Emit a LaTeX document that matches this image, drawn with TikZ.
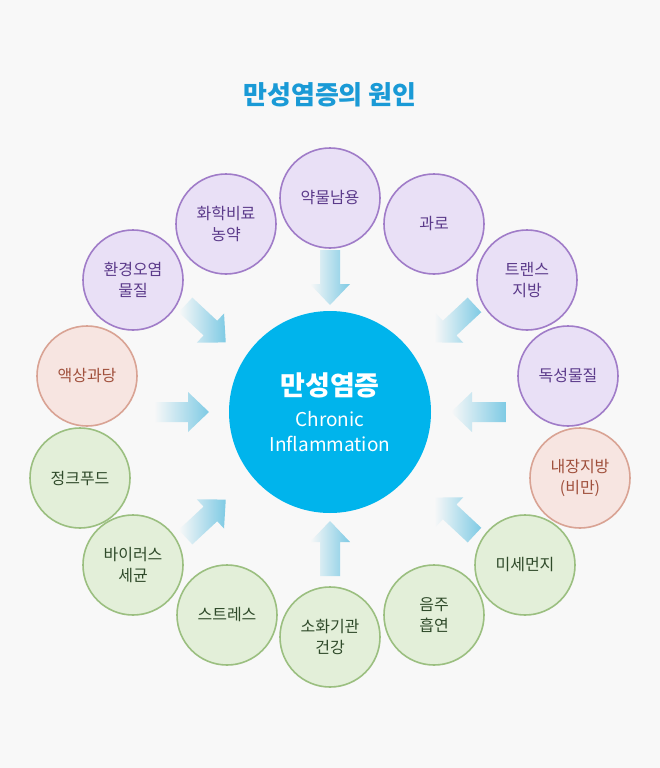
\documentclass[tikz,border=0pt]{standalone}
\usepackage{fontspec}
\setmainfont{Noto Sans CJK KR}
\definecolor{bg}{HTML}{F8F8F8}
\definecolor{pf}{HTML}{E9E0F6}\definecolor{pd}{HTML}{A07CC8}\definecolor{pt}{HTML}{5B3A8A}
\definecolor{kf}{HTML}{F7E5E1}\definecolor{kd}{HTML}{D9A394}\definecolor{kt}{HTML}{A0503C}
\definecolor{gf}{HTML}{E3EFD9}\definecolor{gd}{HTML}{9BBF80}\definecolor{gt}{HTML}{2F4A2A}
\definecolor{cc}{HTML}{00B4EC}\definecolor{tt}{HTML}{1A9AD6}\definecolor{ab}{HTML}{7ECAE4}
\newcommand{\fatarrow}[3]{\begin{scope}[shift={(#1,#2)},rotate=#3]
 \shade[left color=bg,right color=ab] (-28,-10)--(6,-10)--(6,-20)--(27,0)--(6,20)--(6,10)--(-28,10)--cycle;
\end{scope}}
\begin{document}
\begin{tikzpicture}[x=1pt,y=-1pt,
 sat/.style={circle,minimum size=100pt,inner sep=0pt,line width=1.6pt,align=center,font=\fontsize{16}{21}\selectfont},
 pur/.style={sat,fill=pf,draw=pd,text=pt},
 pnk/.style={sat,fill=kf,draw=kd,text=kt},
 grn/.style={sat,fill=gf,draw=gd,text=gt}]
\fill[bg] (0,0) rectangle (660,768);
\node[text=tt,font=\fontsize{26}{30}\selectfont\bfseries] (title) at (330,95) {만성염증의 원인};
\node[circle,fill=cc,minimum size=202pt,inner sep=0pt,text=white,align=center,font=\fontsize{19}{25}\selectfont] (c) at (330,412)
 {{\fontsize{27}{34}\selectfont\bfseries 만성염증}\\[6pt]Chronic\\Inflammation};
\node[pur] (a1) at (330,198) {약물남용};
\node[pur] (a2) at (226,224) {화학비료\\농약};
\node[pur] (a3) at (434,224) {과로};
\node[pur] (a4) at (133,280) {환경오염\\물질};
\node[pur] (a5) at (527,280) {트랜스\\지방};
\node[pnk] (a6) at (87,376) {액상과당};
\node[pur] (a7) at (568,376) {독성물질};
\node[grn] (a8) at (80,478) {정크푸드};
\node[pnk] (a9) at (580,478) {내장지방\\(비만)};
\node[grn] (a10) at (133,565) {바이러스\\세균};
\node[grn] (a11) at (525,565) {미세먼지};
\node[grn] (a12) at (227,615) {스트레스};
\node[grn] (a13) at (330,637) {소화기관\\건강};
\node[grn] (a14) at (434,615) {음주\\흡연};
\fatarrow{330}{278}{-90}
\fatarrow{206}{324}{-43}
\fatarrow{454}{324}{-137}
\fatarrow{182}{412}{0}
\fatarrow{478}{412}{180}
\fatarrow{206}{518}{43}
\fatarrow{454}{516}{137}
\fatarrow{330}{548}{90}
\end{tikzpicture}
\end{document}
